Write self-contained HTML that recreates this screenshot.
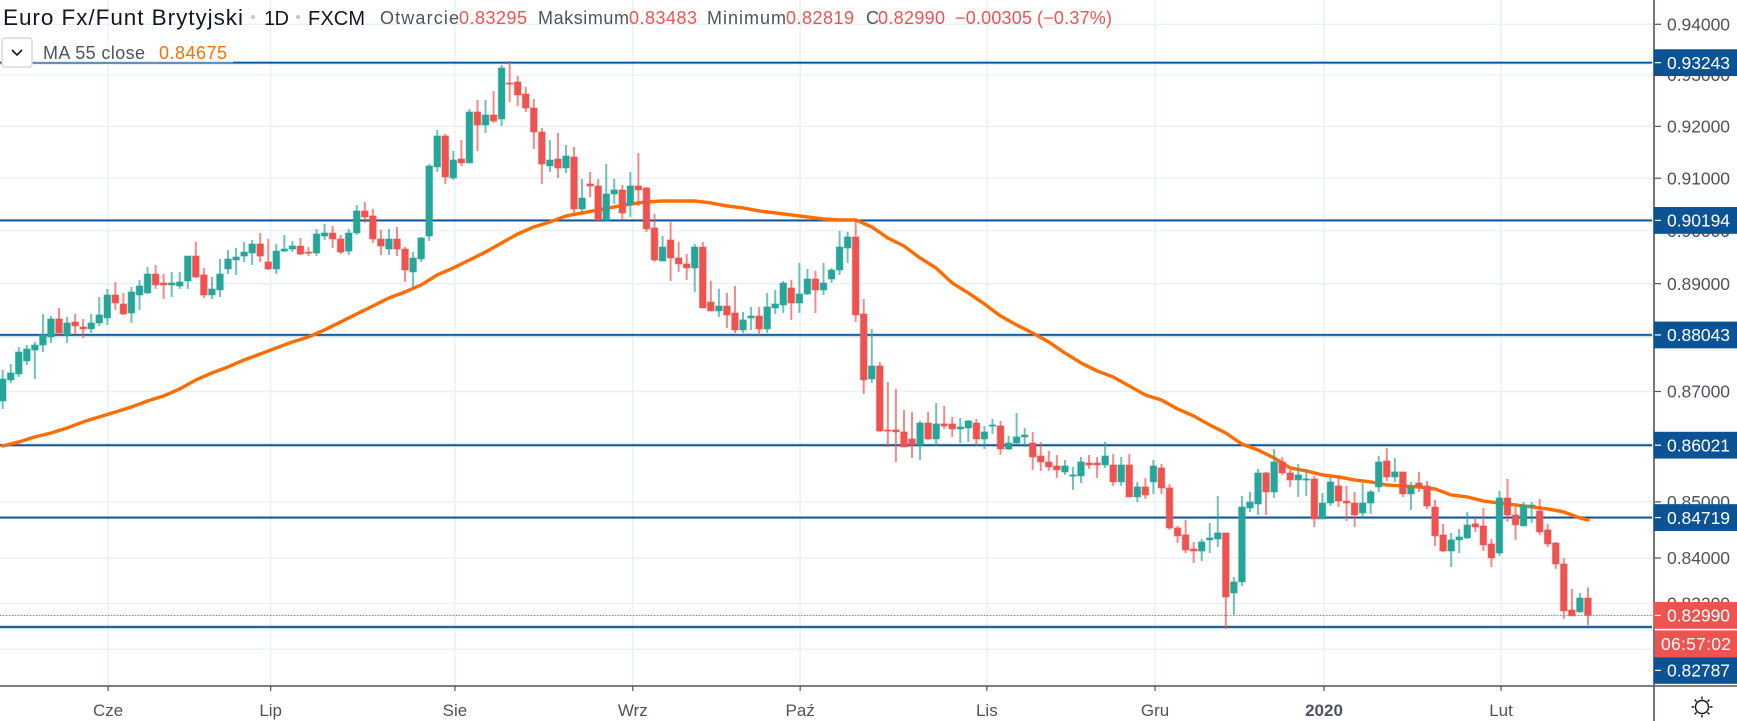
<!DOCTYPE html>
<html lang="pl">
<head>
<meta charset="utf-8">
<title>Euro Fx/Funt Brytyjski</title>
<style>
html,body{margin:0;padding:0;background:#fff;}
body{width:1737px;height:721px;overflow:hidden;}
svg{display:block;font-family:"Liberation Sans",sans-serif;filter:blur(0.3px);}
</style>
</head>
<body>
<svg id="chart" xmlns="http://www.w3.org/2000/svg" width="1737" height="721" viewBox="0 0 1737 721">
  <rect x="0" y="0" width="1737" height="721" fill="#ffffff"/>
  <g id="grid"></g>
  <g id="levels"></g>
  <g id="lastline"></g>
  <g id="ma"></g>
  <g id="candles"></g>
  <rect x="33" y="38" width="200" height="24.6" fill="#ffffff" fill-opacity="0.6"/>
  <g>
    <text x="3" y="25" font-size="22.5" fill="#131722" textLength="240" lengthAdjust="spacing">Euro Fx/Funt Brytyjski</text>
    <circle cx="253" cy="17" r="2" fill="#c4c6cc"/>
    <text x="264" y="25" font-size="20" fill="#131722" textLength="25" lengthAdjust="spacing">1D</text>
    <circle cx="298" cy="17" r="2" fill="#c4c6cc"/>
    <text x="308" y="25" font-size="20" fill="#131722" textLength="57" lengthAdjust="spacing">FXCM</text>
    <text x="380" y="24" font-size="18" fill="#50535e" textLength="79" lengthAdjust="spacing">Otwarcie</text>
    <text x="459" y="24" font-size="18" fill="#ef5350" textLength="68" lengthAdjust="spacing">0.83295</text>
    <text x="538" y="24" font-size="18" fill="#50535e" textLength="91" lengthAdjust="spacing">Maksimum</text>
    <text x="629" y="24" font-size="18" fill="#ef5350" textLength="68" lengthAdjust="spacing">0.83483</text>
    <text x="707" y="24" font-size="18" fill="#50535e" textLength="79" lengthAdjust="spacing">Minimum</text>
    <text x="786" y="24" font-size="18" fill="#ef5350" textLength="68" lengthAdjust="spacing">0.82819</text>
    <text x="866" y="24" font-size="18" fill="#50535e" textLength="12" lengthAdjust="spacing">C</text>
    <text x="878" y="24" font-size="18" fill="#ef5350" textLength="67" lengthAdjust="spacing">0.82990</text>
    <text x="955" y="24" font-size="18" fill="#ef5350" textLength="77" lengthAdjust="spacing">−0.00305</text>
    <text x="1037" y="24" font-size="18" fill="#ef5350" textLength="75" lengthAdjust="spacing">(−0.37%)</text>
    <text x="43" y="59" font-size="18" fill="#50535e" textLength="102" lengthAdjust="spacing">MA 55 close</text>
    <text x="159" y="59" font-size="18" fill="#ff6d00" textLength="68" lengthAdjust="spacing">0.84675</text>
  </g>
  <g>
    <rect x="2" y="38" width="30" height="29" rx="3" fill="#ffffff" stroke="#d6d8e0" stroke-width="1.5"/>
    <polyline points="12,50 17,55 22,50" fill="none" stroke="#131722" stroke-width="1.6"/>
  </g>
  <line x1="0" y1="686" x2="1737" y2="686" stroke="#50535e" stroke-width="1.6"/>
  <g id="xaxis"></g>
  <line x1="1654" y1="0" x2="1654" y2="721" stroke="#50535e" stroke-width="1.6"/>
  <g id="yaxis"></g>
  <g id="labels"></g>
  <g fill="none" stroke="#131722" stroke-width="1.4">
    <circle cx="1702" cy="707" r="6.5"/>
    <path d="M1702 696.5v2.8M1702 714.7v2.8M1691.5 707h2.8M1709.7 707h2.8M1694.6 699.6l2 2M1707.4 712.4l2 2M1694.6 714.4l2-2M1707.4 701.6l2-2"/>
  </g>
</svg>
<script>
const opens = [
.86826,.87212,.87322,.87562,.87764,.87857,.88006,.88341,.88043,.88285,
.88192,.88155,.88266,.88359,.88788,.88620,.88452,.88788,.88826,.89182,
.89013,.88976,.88957,.89051,.89520,.89164,.88788,.88882,.89276,.89445,
.89520,.89577,.89747,.89408,.89276,.89614,.89652,.89709,.89595,.89577,
.89899,.89956,.89842,.89614,.89956,.90374,.90279,.89842,.89652,.89842,
.89652,.89220,.89464,.89899,.91216,.91814,.91005,.91369,.91293,.92279,
.92027,.92221,.92143,.92845,.92864,.92629,.92357,.91891,.91235,.91369,
.91197,.91408,.90412,.90890,.90851,.90203,.90698,.90775,.90488,.90851,
.90813,.90051,.89426,.89823,.89483,.89370,.89295,.89690,.88657,.88490,
.88582,.88452,.88136,.88359,.88396,.88155,.88545,.88601,.88919,.88638,
.88807,.89088,.88882,.89088,.89257,.89671,.89880,.88434,.87230,.87470,
.86298,.86298,.86262,.86134,.86025,.86425,.86134,.86407,.86407,.86316,
.86334,.86425,.86134,.86371,.86371,.85952,.86061,.86171,.86061,.85826,
.85718,.85646,.85538,.85466,.85466,.85700,.85700,.85664,.85664,.85358,
.85664,.85088,.85268,.85358,.85610,.85250,.84534,.84410,.84160,.84124,
.84321,.84338,.84445,.83383,.83578,.84890,.84962,.85520,.85178,.85718,
.85520,.85394,.85394,.85412,.84695,.84979,.85286,.85015,.84979,.84801,
.84979,.85268,.85736,.85448,.85538,.85142,.85340,.85286,.84908,.84410,
.84124,.84321,.84356,.84606,.84570,.84249,.84089,.85070,.84766,.84570,
.84926,.84837,.84499,.84267,.83895,.83086,.83051,.83295];
const highs = [
.87396,.87506,.87820,.87857,.87913,.88434,.88396,.88545,.88378,.88434,
.88341,.88434,.88750,.88901,.89032,.88826,.88938,.89070,.89314,.89351,
.89182,.89220,.89220,.89520,.89785,.89295,.89126,.89464,.89633,.89671,
.89785,.89823,.89956,.89842,.89747,.89918,.89804,.89861,.89690,.90032,
.90127,.90089,.89918,.90032,.90488,.90545,.90412,.90013,.90032,.90070,
.89690,.89595,.89880,.91273,.91930,.91852,.91523,.91736,.92337,.92512,
.92512,.92687,.93197,.93275,.92982,.92766,.92531,.91969,.91736,.91872,
.91639,.91600,.90986,.91120,.90986,.91273,.90986,.90871,.91120,.91484,
.90832,.90317,.89899,.90165,.89785,.89558,.89747,.89785,.89051,.88901,
.88826,.88957,.88471,.88564,.88564,.88826,.88882,.89051,.89070,.89389,
.89276,.89239,.89389,.89295,.89994,.89975,.90203,.88713,.88155,.87543,
.87175,.87046,.86662,.86626,.86462,.86626,.86789,.86735,.86535,.86516,
.86480,.86498,.86371,.86498,.86462,.86189,.86607,.86334,.86262,.86080,
.85916,.85844,.85754,.85628,.85808,.85844,.85808,.86080,.85862,.85808,
.85862,.85358,.85430,.85754,.85682,.85322,.84570,.84677,.84285,.84338,
.84623,.85106,.84445,.83666,.85106,.85178,.85592,.85538,.85952,.85808,
.85574,.85682,.85592,.85466,.85160,.85448,.85430,.85286,.85178,.85340,
.85214,.85826,.85970,.85790,.85538,.85358,.85538,.85376,.85033,.84606,
.84445,.84517,.84819,.84695,.84890,.84338,.85196,.85412,.84908,.84997,
.84997,.85052,.84606,.84285,.84001,.83454,.83383,.83483];
const lows = [
.86680,.87157,.87267,.87488,.87230,.87727,.87894,.88043,.87894,.88043,
.87987,.88080,.88211,.88229,.88508,.88415,.88266,.88508,.88807,.88901,
.88713,.88750,.88901,.88901,.89107,.88732,.88713,.88750,.89182,.89164,
.89408,.89351,.89408,.89257,.89182,.89595,.89595,.89539,.89520,.89520,
.89823,.89671,.89558,.89539,.89918,.90146,.89766,.89539,.89539,.89520,
.89032,.88919,.89408,.89804,.91120,.90890,.90966,.91235,.91293,.91523,
.91872,.92066,.92008,.92473,.92396,.92279,.91561,.90890,.91120,.91005,
.91101,.90336,.90355,.90640,.90165,.90184,.90507,.90203,.90260,.90469,
.89975,.89408,.89426,.89051,.89220,.89070,.88844,.88545,.88490,.88378,
.88173,.88080,.88080,.88136,.88043,.88080,.88434,.88452,.88322,.88452,
.88788,.88452,.88788,.89013,.89164,.89389,.88285,.86954,.87157,.86262,
.85989,.85718,.85989,.85790,.85754,.86116,.86007,.86316,.86171,.86061,
.86080,.86007,.85952,.86225,.85844,.85934,.86043,.85989,.85574,.85556,
.85556,.85430,.85484,.85214,.85340,.85592,.85430,.85610,.85286,.85286,
.85088,.84997,.85052,.85142,.85142,.84499,.84267,.84089,.83913,.83948,
.84089,.84196,.82755,.82999,.83507,.84819,.84766,.84766,.85070,.85484,
.85268,.85088,.85106,.84552,.84695,.84926,.84908,.84659,.84552,.84712,
.84784,.85178,.85376,.85358,.85088,.84855,.85178,.84873,.84214,.84107,
.83842,.84089,.84338,.84463,.84124,.83842,.84036,.84641,.84321,.84570,
.84623,.84410,.84196,.83807,.82929,.82982,.83034,.82819];
const closes = [
.87230,.87341,.87727,.87783,.87857,.88043,.88341,.88080,.88266,.88211,
.88155,.88266,.88415,.88788,.88638,.88434,.88844,.88957,.89182,.88976,
.88976,.89013,.89032,.89520,.89126,.88788,.88901,.89182,.89464,.89501,
.89595,.89747,.89520,.89276,.89614,.89652,.89709,.89558,.89577,.89937,
.89956,.89842,.89595,.89956,.90374,.90260,.89842,.89709,.89842,.89652,
.89257,.89483,.89861,.91235,.91814,.91024,.91350,.91293,.92279,.92027,
.92221,.92104,.93138,.92825,.92610,.92357,.91891,.91273,.91350,.91197,
.91427,.90412,.90621,.90851,.90203,.90698,.90775,.90336,.90851,.90775,
.90032,.89445,.89690,.89483,.89370,.89295,.89690,.88545,.88490,.88582,
.88415,.88136,.88322,.88396,.88155,.88564,.88620,.89013,.88638,.88807,
.89088,.88882,.89013,.89257,.89690,.89880,.88415,.87212,.87470,.86280,
.86280,.86262,.85989,.86025,.86425,.86134,.86407,.86371,.86316,.86353,
.86462,.86134,.86262,.86389,.85952,.86061,.86171,.86207,.85808,.85718,
.85628,.85574,.85646,.85484,.85718,.85664,.85664,.85826,.85358,.85664,
.85088,.85268,.85124,.85646,.85250,.84534,.84392,.84142,.84124,.84285,
.84356,.84445,.83313,.83578,.84908,.84997,.85520,.85178,.85718,.85520,
.85394,.85484,.85412,.84695,.84979,.85358,.85015,.84979,.84766,.84979,
.85178,.85718,.85448,.85538,.85142,.85268,.85268,.84926,.84392,.84124,
.84321,.84374,.84588,.84552,.84232,.84001,.85070,.84766,.84588,.84944,
.84944,.84463,.84249,.83895,.83069,.82982,.83295,.82990];

const maBars = [0,2,4,6,8,10,12,14,16,18,20,22,24,26,28,30,32,34,36,38,40,42,44,46,48,50,52,54,56,58,60,62,64,66,68,70,72,74,76,78,80,82,84,86,88,90,92,94,96,98,100,102,104,106,108,110,112,114,116,118,120,122,124,126,128,130,132,134,136,138,140,142,144,146,148,150,152,154,156,158,160,162,164,166,168,170,172,174,176,178,180,182,184,186,188,190,192,194,196,197];
const maValues = [
.86007,.86080,.86171,.86243,.86334,.86444,.86535,.86626,.86717,.86826,
.86918,.87046,.87212,.87341,.87451,.87580,.87690,.87802,.87913,.88006,
.88136,.88285,.88434,.88582,.88732,.88844,.88976,.89164,.89295,.89445,
.89595,.89766,.89937,.90070,.90165,.90279,.90336,.90393,.90450,.90507,
.90545,.90564,.90564,.90564,.90526,.90469,.90431,.90374,.90336,.90298,
.90260,.90222,.90203,.90203,.90070,.89861,.89709,.89483,.89295,.89013,
.88826,.88620,.88396,.88229,.88080,.87913,.87709,.87525,.87378,.87267,
.87102,.86936,.86844,.86680,.86553,.86389,.86243,.86043,.85934,.85790,
.85610,.85556,.85484,.85448,.85394,.85358,.85304,.85286,.85268,.85232,
.85124,.85088,.85015,.84979,.84944,.84908,.84873,.84819,.84712,.84675];

const levelValues = [0.93243,0.90194,0.88043,0.86021,0.84719,0.82787];
const priceTicks = [0.94,0.93,0.92,0.91,0.90,0.89,0.88,0.87,0.86,0.85,0.84,0.832,0.824];
const monthLabels = ["Cze","Lip","Sie","Wrz","Paź","Lis","Gru","2020","Lut"];
const monthBars = [13.1,33.3,56.2,78.3,99.1,122.3,143.2,164.2,186.2];
const countdownText = "06:57:02";

const SVGNS = "http://www.w3.org/2000/svg";
const upColor = "#26a69a", downColor = "#ef5350";
const plotRight = 1652, axisX = 1654, axisY = 686;

function xScale(bar){ return 2.7 + 8.047 * bar; }
function yScale(price){ return 24.3 + 4745 * Math.log(0.94 / price); }

function make(parent, tag, attrs, txt){
  const el = document.createElementNS(SVGNS, tag);
  for (const k in attrs) el.setAttribute(k, attrs[k]);
  if (txt !== undefined) el.textContent = txt;
  parent.appendChild(el);
  return el;
}

const gridG = document.getElementById("grid");
const levelsG = document.getElementById("levels");
const lastG = document.getElementById("lastline");
const maG = document.getElementById("ma");
const candlesG = document.getElementById("candles");
const xaxisG = document.getElementById("xaxis");
const yaxisG = document.getElementById("yaxis");
const labelsG = document.getElementById("labels");

priceTicks.forEach(function(p){
  const y = yScale(p);
  const line = make(gridG, "line", {x1:0, x2:axisX, y1:y, y2:y, stroke:"#e9f0f6", "stroke-width":1.4});
  
  
  const tick = make(yaxisG, "line", {x1:axisX+1, x2:axisX+7, y1:y, y2:y, stroke:"#50535e", "stroke-width":1.2});
  
  
  const label = make(yaxisG, "text", {x:1667, y:y+6.2, "font-size":17.5, fill:"#50535e", textLength:63, lengthAdjust:"spacing"}, p.toFixed(5));
  
  
});

monthBars.forEach(function(b, i){
  const x = xScale(b);
  const line = make(gridG, "line", {x1:x, x2:x, y1:0, y2:axisY, stroke:"#e9f0f6", "stroke-width":1.4});
  
  
  const tick = make(xaxisG, "line", {x1:x, x2:x, y1:axisY, y2:axisY+5, stroke:"#50535e", "stroke-width":1.2});
  
  
  const bold = monthLabels[i] === "2020";
  const label = make(xaxisG, "text", {x:x, y:716, "font-size":17, fill:"#50535e", "text-anchor":"middle", "font-weight": bold ? "bold" : "normal"}, monthLabels[i]);
  
  
});

levelValues.forEach(function(p){
  const y = yScale(p);
  make(levelsG, "line", {x1:0, x2:plotRight, y1:y, y2:y, stroke:"#0b5394", "stroke-width":3.2, "stroke-opacity":0.28});
  const line = make(levelsG, "line", {x1:0, x2:plotRight, y1:y, y2:y, stroke:"#0b5394", "stroke-width":1.7});
  
  
});

const lastIndex = closes.length - 1;
const lastClose = closes[lastIndex];
const lastY = yScale(lastClose);
const lastLine = make(lastG, "line", {x1:0, x2:axisX, y1:lastY, y2:lastY, stroke:downColor, "stroke-width":1, "stroke-dasharray":"1.5 1.5"});



const maPoints = maBars.map(function(b, i){
  return xScale(b).toFixed(2) + "," + yScale(maValues[i]).toFixed(2);
}).join(" ");
const maLine = make(maG, "polyline", {points:maPoints, fill:"none", stroke:"#ff6d00", "stroke-width":3.4, "stroke-linejoin":"round", "stroke-linecap":"round"});



opens.forEach(function(o, i){
  const c = closes[i];
  const up = c >= o;
  const col = up ? upColor : downColor;
  const x = xScale(i);
  const yTop = yScale(Math.max(o, c));
  const yBot = yScale(Math.min(o, c));
  const g = make(candlesG, "g", {});
  
  
  make(g, "line", {x1:x, x2:x, y1:yScale(highs[i]), y2:yScale(lows[i]), stroke:col, "stroke-width":2, "stroke-opacity":0.68});
  make(g, "rect", {x:x-3.3, y:yTop, width:6.6, height:Math.max(yBot-yTop, 1.2), fill:col, stroke:col, "stroke-opacity":0.5, "stroke-width":1.1});
});

function priceBox(text, cy, fill, name){
  const box = make(labelsG, "rect", {x:axisX-0.5, y:cy-13.4, width:1737-axisX+0.5, height:26.8, fill:fill});
  
  
  const tick = make(labelsG, "line", {x1:axisX+1, x2:axisX+7, y1:cy, y2:cy, stroke:"#ffffff", "stroke-width":1.2});
  
  
  const label = make(labelsG, "text", {x:1667, y:cy+6.2, "font-size":17.5, fill:"#ffffff", textLength:63, lengthAdjust:"spacing"}, text);
  
  
}

const timerTop = lastY + 15;
const timerBottom = lastY + 42;
levelValues.forEach(function(p){
  const y = yScale(p);
  const collides = y + 13.4 > lastY - 13.4 && y - 13.4 < timerBottom;
  priceBox(p.toFixed(5), collides ? timerBottom + 13 : y, "#0b5394", "level-price-label");
});
priceBox(lastClose.toFixed(5), lastY, downColor, "last-price-label");
const timerBox = make(labelsG, "rect", {x:axisX+1, y:timerTop, width:1737-axisX-1, height:timerBottom-timerTop, fill:downColor});


const timerText = make(labelsG, "text", {x:1661, y:(timerTop+timerBottom)/2+6.2, "font-size":17.5, fill:"#ffffff", textLength:70, lengthAdjust:"spacing"}, countdownText);


</script>
</body>
</html>
